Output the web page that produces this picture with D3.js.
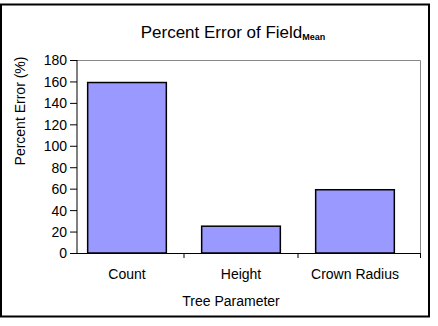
<!DOCTYPE html>
<html>
<head>
<meta charset="utf-8">
<script src="https://cdn.jsdelivr.net/npm/d3@7"></script>
<style>
	body { margin: 0; background: #fff; }
	text { font-family: "Liberation Sans", Arial, sans-serif; fill: #000; }
</style>
</head>
<body>
<script>
// chart data
const categories = ["Count", "Height", "Crown Radius"];
const percentError = [159, 25, 59];
const yTicks = [0, 20, 40, 60, 80, 100, 120, 140, 160, 180];

const width = 438, height = 326;

let svg = d3.select("body").append("svg")
	.attr("width", width)
	.attr("height", height);

// outer frame
svg.append("rect")
	.attr("x", 1).attr("y", 4.5)
	.attr("width", 428).attr("height", 312)
	.attr("fill", "#fff")
	.attr("stroke", "#000")
	.attr("stroke-width", 2);

let plot = {left: 77, right: 420.5, top: 60, bottom: 253};

let y = d3.scaleLinear().domain([0, 180]).range([plot.bottom, plot.top]);
let x = d3.scaleBand().domain(categories).range([70, 412]).paddingInner(0.31).paddingOuter(0.155);

// plot area frame (gray top / right)
svg.append("path")
	.attr("d", `M${plot.left},${plot.top + 0.5}H${plot.right}V${plot.bottom}`)
	.attr("fill", "none")
	.attr("stroke", "#888")
	.attr("stroke-width", 1);

// bars
svg.selectAll("rect.bar")
	.data(percentError)
	.enter().append("rect")
	.attr("class", "bar")
	.attr("x", function(d, i){ return x(categories[i]); })
	.attr("y", function(d){ return y(d); })
	.attr("width", x.bandwidth())
	.attr("height", function(d){ return y(0) - y(d); })
	.attr("fill", "#9999ff")
	.attr("stroke", "#000")
	.attr("stroke-width", 1.5);

// y axis
let yAxis = d3.axisLeft(y).tickValues(yTicks).tickSize(7).tickPadding(3);
let gy = svg.append("g")
	.attr("transform", `translate(${plot.left},0)`)
	.call(yAxis);
gy.select(".domain").attr("stroke", "#000").attr("d", `M0,${plot.top}V${plot.bottom}`);
gy.selectAll("text").style("font-size", "14px").attr("dy", "0.35em");

// x axis baseline and boundary ticks
svg.append("line")
	.attr("x1", plot.left).attr("x2", plot.right)
	.attr("y1", plot.bottom + 0.5).attr("y2", plot.bottom + 0.5)
	.attr("stroke", "#000");

let bounds = categories.map(function(c){ return x(c) - x.step() * x.paddingInner() / 2; }).slice(1);
bounds.push(plot.right);
svg.selectAll("line.xtick")
	.data(bounds)
	.enter().append("line")
	.attr("class", "xtick")
	.attr("x1", function(d){ return d; }).attr("x2", function(d){ return d; })
	.attr("y1", plot.bottom).attr("y2", plot.bottom + 5)
	.attr("stroke", "#000");

svg.selectAll("text.cat")
	.data(categories)
	.enter().append("text")
	.attr("class", "cat")
	.attr("x", function(d){ return x(d) + x.bandwidth() / 2; })
	.attr("y", 279)
	.attr("text-anchor", "middle")
	.style("font-size", "14px")
	.text(function(d){ return d; });

// axis titles
svg.append("text")
	.attr("x", 231).attr("y", 306)
	.attr("text-anchor", "middle")
	.style("font-size", "14px")
	.text("Tree Parameter");

svg.append("text")
	.attr("transform", "translate(25,111) rotate(-90)")
	.attr("text-anchor", "middle")
	.style("font-size", "14px")
	.text("Percent Error (%)");

// title with subscript
let title = svg.append("text")
	.attr("x", 233).attr("y", 38)
	.attr("text-anchor", "middle")
	.style("font-size", "17px");
title.append("tspan").text("Percent Error of Field");
title.append("tspan")
	.attr("dy", 2)
	.style("font-size", "9px")
	.style("font-weight", "bold")
	.text("Mean");
</script>
</body>
</html>
